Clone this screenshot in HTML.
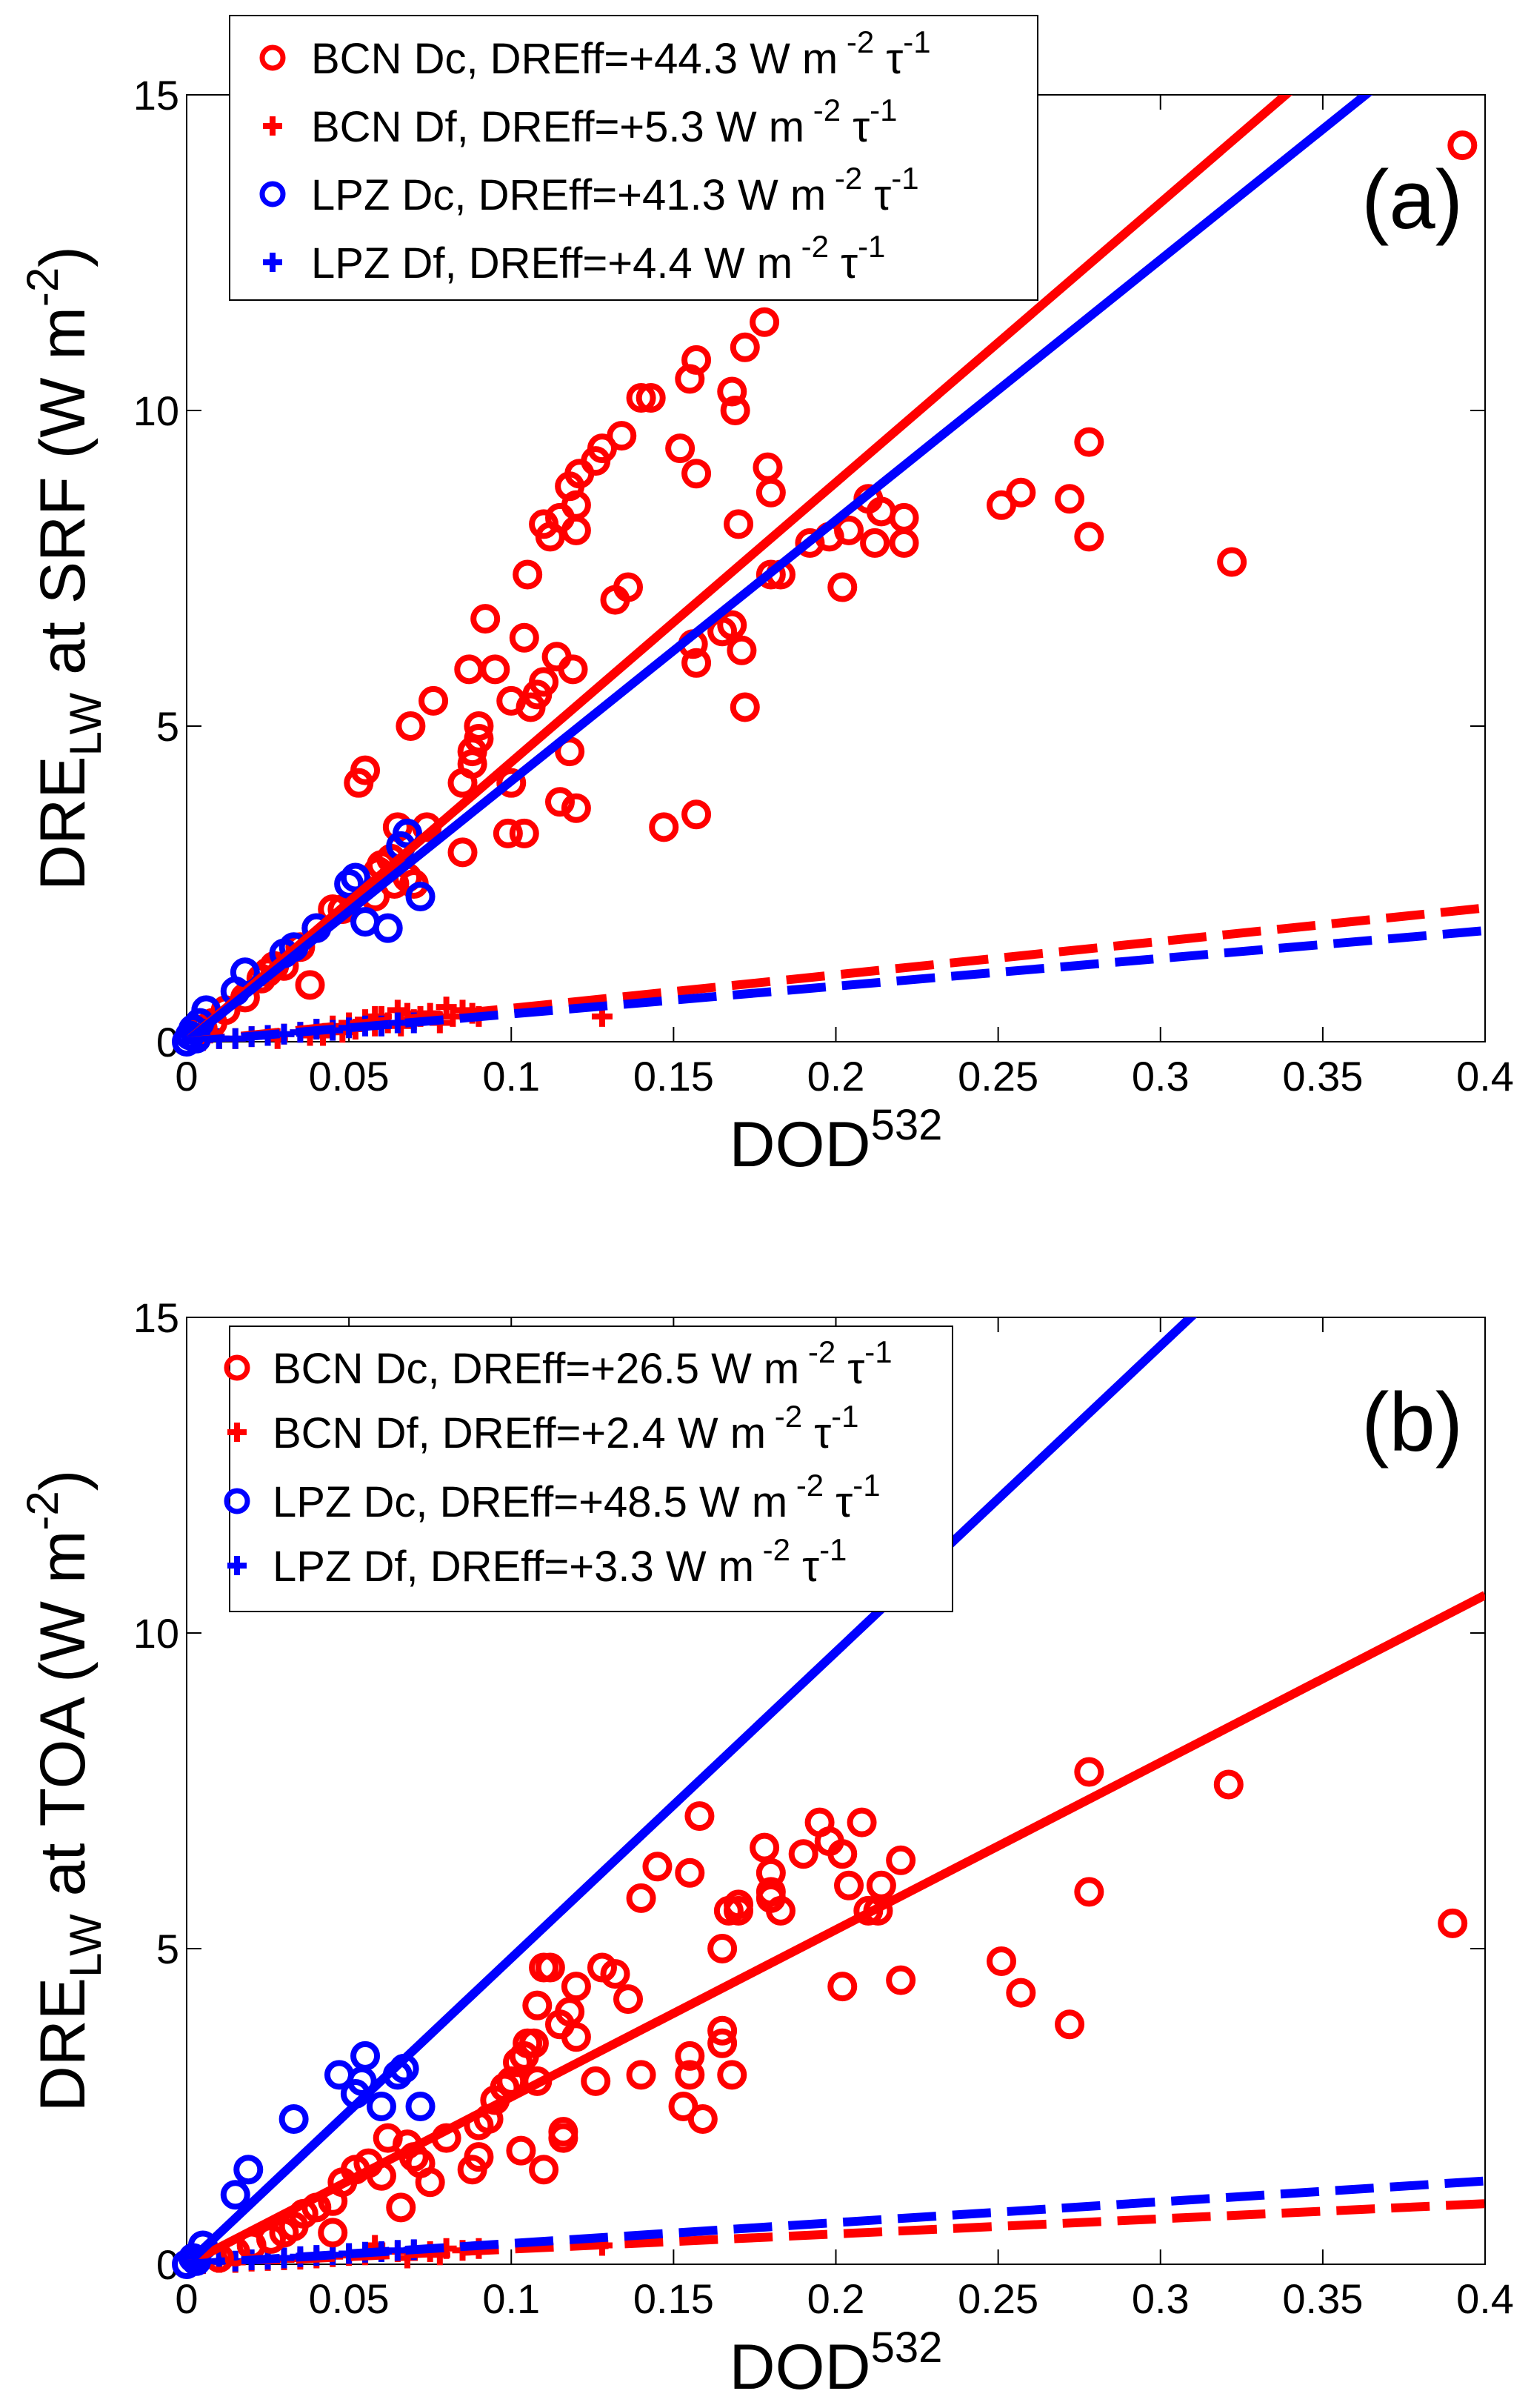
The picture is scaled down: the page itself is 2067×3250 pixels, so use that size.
<!DOCTYPE html>
<html><head><meta charset="utf-8">
<style>
html,body{margin:0;padding:0;background:#fff;}
svg{display:block;font-family:"Liberation Sans",Arial,sans-serif;}
</style></head>
<body>
<svg id="chart" width="2067" height="3250" viewBox="0 0 2067 3250" xmlns="http://www.w3.org/2000/svg"></svg>
<script>
// ---- data ----
const xTicks = [0,0.05,0.1,0.15,0.2,0.25,0.3,0.35,0.4];
const xTickLabels = ["0","0.05","0.1","0.15","0.2","0.25","0.3","0.35","0.4"];
const yTicks = [0,5,10,15];
const yTickLabels = ["0","5","10","15"];

const aBcnDc = [[0.393,14.2],[0.322,7.6],[0.278,9.5],[0.278,8.0],[0.272,8.6],[0.257,8.7],[0.251,8.5],[0.221,8.3],[0.221,7.9],[0.214,8.4],[0.212,7.9],[0.21,8.6],[0.204,8.1],[0.202,7.2],[0.198,8.0],[0.192,7.9],[0.183,7.4],[0.18,7.4],[0.18,8.7],[0.179,9.1],[0.178,11.4],[0.172,11.0],[0.169,10.0],[0.168,10.3],[0.17,8.2],[0.171,6.2],[0.172,5.3],[0.168,6.6],[0.165,6.5],[0.157,9.0],[0.157,10.8],[0.155,10.5],[0.152,9.4],[0.157,6.0],[0.156,6.3],[0.157,3.6],[0.143,10.2],[0.14,10.2],[0.136,7.2],[0.132,7.0],[0.134,9.6],[0.128,9.4],[0.126,9.2],[0.121,9.0],[0.12,8.5],[0.12,8.1],[0.118,8.8],[0.115,8.3],[0.112,8.0],[0.11,8.2],[0.114,6.1],[0.118,4.6],[0.12,3.7],[0.119,5.9],[0.115,3.8],[0.11,5.7],[0.108,5.5],[0.105,7.4],[0.104,6.4],[0.106,5.3],[0.1,5.4],[0.1,4.1],[0.104,3.3],[0.099,3.3],[0.095,5.9],[0.092,6.7],[0.09,4.8],[0.09,5.0],[0.088,4.4],[0.088,4.6],[0.087,5.9],[0.085,4.1],[0.085,3.0],[0.076,5.4],[0.069,5.0],[0.07,2.5],[0.074,3.4],[0.065,3.4],[0.063,2.9],[0.06,2.8],[0.058,2.3],[0.055,4.3],[0.053,4.1],[0.048,2.1],[0.045,2.1],[0.04,1.8],[0.038,0.9],[0.035,1.5],[0.03,1.2],[0.027,1.2],[0.025,1.1],[0.068,2.6],[0.064,2.5],[0.059,2.7],[0.147,3.4],[0.023,1.0],[0.018,0.7],[0.012,0.5],[0.008,0.3],[0.005,0.2]];
const aLpzDc = [[0,0],[0.002,0.2],[0.004,0.3],[0.006,0.5],[0.018,1.1],[0.015,0.8],[0.03,1.4],[0.033,1.5],[0.04,1.8],[0.05,2.5],[0.052,2.6],[0.055,1.9],[0.062,1.8],[0.066,3.1],[0.068,3.3],[0.072,2.3],[0.001,0.1],[0.003,0.05]];
const aBcnDf = [[0.005,0.02],[0.01,0.05],[0.015,0.05],[0.02,0.08],[0.025,0.1],[0.03,0.12],[0.035,0.15],[0.04,0.2],[0.042,0.1],[0.045,0.25],[0.05,0.3],[0.052,0.2],[0.055,0.35],[0.058,0.25],[0.06,0.4],[0.062,0.3],[0.065,0.5],[0.068,0.45],[0.07,0.35],[0.072,0.4],[0.075,0.45],[0.08,0.55],[0.082,0.4],[0.085,0.5],[0.088,0.45],[0.09,0.4],[0.128,0.4],[0.048,0.15],[0.038,0.1],[0.028,0.05],[0.058,0.4],[0.066,0.25],[0.078,0.3]];
const aLpzDf = [[0.002,0.01],[0.005,0.03],[0.01,0.05],[0.015,0.05],[0.02,0.08],[0.025,0.1],[0.03,0.12],[0.035,0.15],[0.04,0.2],[0.045,0.18],[0.05,0.22],[0.055,0.25],[0.06,0.25],[0.065,0.3],[0.07,0.3]];
const aSlopes = [44.3,5.3,41.3,4.4];

const bBcnDc = [[0.39,5.4],[0.321,7.6],[0.278,7.8],[0.278,5.9],[0.272,3.8],[0.257,4.3],[0.251,4.8],[0.22,6.4],[0.22,4.5],[0.214,6.0],[0.213,5.6],[0.21,5.6],[0.208,7.0],[0.204,6.0],[0.202,6.5],[0.202,4.4],[0.198,6.7],[0.195,7.0],[0.19,6.5],[0.183,5.6],[0.18,5.8],[0.18,6.2],[0.18,5.9],[0.178,6.6],[0.17,5.6],[0.17,5.7],[0.167,5.6],[0.165,5.0],[0.165,3.7],[0.165,3.5],[0.168,3.0],[0.158,7.1],[0.155,6.2],[0.155,3.3],[0.155,3.0],[0.159,2.3],[0.153,2.5],[0.145,6.3],[0.14,5.8],[0.14,3.0],[0.136,4.2],[0.132,4.6],[0.128,4.7],[0.126,2.9],[0.12,4.4],[0.118,4.0],[0.12,3.6],[0.115,3.8],[0.112,4.7],[0.11,4.7],[0.108,4.1],[0.107,3.5],[0.105,3.5],[0.104,3.3],[0.102,3.2],[0.1,2.9],[0.108,2.9],[0.116,2.1],[0.116,2.0],[0.11,1.5],[0.103,1.8],[0.098,2.8],[0.095,2.6],[0.093,2.3],[0.09,2.2],[0.09,1.7],[0.088,1.5],[0.08,2.0],[0.075,1.3],[0.072,1.6],[0.07,1.7],[0.068,1.9],[0.066,0.9],[0.062,2.0],[0.06,1.4],[0.056,1.6],[0.052,1.5],[0.048,1.3],[0.045,1.0],[0.04,0.9],[0.036,0.8],[0.033,0.6],[0.03,0.5],[0.026,0.4],[0.02,0.3],[0.015,0.2],[0.01,0.1],[0.045,0.5]];
const bLpzDc = [[0,0],[0.002,0.1],[0.005,0.3],[0.015,1.1],[0.019,1.5],[0.033,2.3],[0.047,3.0],[0.052,2.7],[0.054,2.9],[0.055,3.3],[0.06,2.5],[0.065,3.0],[0.067,3.1],[0.072,2.5],[0.003,0.05]];
const bBcnDf = [[0.005,0.01],[0.01,0.03],[0.015,0.03],[0.02,0.05],[0.025,0.06],[0.03,0.07],[0.035,0.08],[0.04,0.1],[0.045,0.12],[0.05,0.14],[0.055,0.15],[0.06,0.2],[0.065,0.2],[0.07,0.22],[0.075,0.2],[0.08,0.25],[0.085,0.22],[0.09,0.25],[0.128,0.3],[0.058,0.3],[0.068,0.1],[0.078,0.15]];
const bLpzDf = [[0.002,0.01],[0.005,0.02],[0.01,0.04],[0.015,0.05],[0.02,0.07],[0.025,0.08],[0.03,0.1],[0.035,0.12],[0.04,0.14],[0.045,0.15],[0.05,0.17],[0.055,0.19],[0.06,0.2],[0.065,0.22],[0.07,0.23]];
const bSlopes = [26.5,2.4,48.5,3.3];

const aLegend = ["+44.3","+5.3","+41.3","+4.4"];
const bLegend = ["+26.5","+2.4","+48.5","+3.3"];

// ---- drawing ----
const NS="http://www.w3.org/2000/svg";
const svg=document.getElementById('chart');
function el(tag,attrs,parent){const e=document.createElementNS(NS,tag);for(const k in attrs)e.setAttribute(k,attrs[k]);(parent||svg).appendChild(e);return e;}
const RED="#ff0000",BLUE="#0000ff";

function panel(cfg){
  const L=252,R=2005,T=cfg.top,B=cfg.top+1278;
  const xs=v=>L+(v/0.4)*(R-L);
  const ys=v=>B-(v/15)*(B-T);
  const g=el('g',{});
  
  
  el('rect',{x:L,y:T,width:R-L,height:B-T,fill:'#fff',stroke:'#000','stroke-width':2},g);
  xTicks.forEach((t,i)=>{
    const x=xs(t);
    el('line',{x1:x,y1:B,x2:x,y2:B-20,stroke:'#000','stroke-width':2},g);
    el('line',{x1:x,y1:T,x2:x,y2:T+20,stroke:'#000','stroke-width':2},g);
    const tx=el('text',{x:x,y:B+66,'font-size':56,'text-anchor':'middle'},g);
    tx.textContent=xTickLabels[i];
    
    
  });
  yTicks.forEach((t,i)=>{
    const y=ys(t);
    el('line',{x1:L,y1:y,x2:L+20,y2:y,stroke:'#000','stroke-width':2},g);
    el('line',{x1:R,y1:y,x2:R-20,y2:y,stroke:'#000','stroke-width':2},g);
    const tx=el('text',{x:L-10,y:y+20,'font-size':56,'text-anchor':'end'},g);
    tx.textContent=yTickLabels[i];
    
    
  });
  const cp=el('clipPath',{id:'clip'+cfg.id},g);
  el('rect',{x:L,y:T,width:R-L,height:B-T},cp);
  const pg=el('g',{},g);
  function circles(arr,col,name){arr.forEach(p=>{
    const c=el('circle',{cx:xs(p[0]),cy:ys(p[1]),r:16,fill:'none',stroke:col,'stroke-width':8},pg);
    
    
  });}
  function pluses(arr,col,name){arr.forEach(p=>{
    const x=xs(p[0]),y=ys(p[1]);
    const pth=el('path',{d:`M${x-14},${y}H${x+14}M${x},${y-14}V${y+14}`,stroke:col,'stroke-width':8},pg);
    
    
  });}
  pluses(cfg.bcnDf,RED,'bcn-df-point');
  pluses(cfg.lpzDf,BLUE,'lpz-df-point');
  circles(cfg.bcnDc,RED,'bcn-dc-point');
  circles(cfg.lpzDc,BLUE,'lpz-dc-point');
  const lg=el('g',{'clip-path':`url(#clip${cfg.id})`},g);
  const lines=[[cfg.slopes[0],RED,false,'bcn-dc-fit'],[cfg.slopes[2],BLUE,false,'lpz-dc-fit'],[cfg.slopes[1],RED,true,'bcn-df-fit'],[cfg.slopes[3],BLUE,true,'lpz-df-fit']];
  lines.forEach(l=>{
    const ln=el('line',{x1:xs(0),y1:ys(0),x2:xs(0.4),y2:ys(0.4*l[0]),stroke:l[1],'stroke-width':12},lg);
    if(l[2])ln.setAttribute('stroke-dasharray','52 22');
    
    
  });
  // labels
  const xl=el('text',{x:(L+R)/2,y:B+168,'font-size':86,'text-anchor':'middle'},g);
  xl.innerHTML='DOD<tspan font-size="58" dy="-36">532</tspan>';
  
  
  const yl=el('text',{x:0,y:0,'font-size':86,'text-anchor':'middle',transform:`translate(114,${(T+B)/2}) rotate(-90)`},g);
  yl.innerHTML=`DRE<tspan font-size="60" dy="22">LW</tspan><tspan dy="-22"> at ${cfg.site} (W m</tspan><tspan font-size="60" dy="-36">-2</tspan><tspan dy="36">)</tspan>`;
  
  
  const pl=el('text',{x:1975,y:T+180,'font-size':112,'text-anchor':'end'},g);
  pl.textContent=cfg.tag;
  
  
  // legend
  const lgd=cfg.legend;
  const box=el('rect',{x:lgd.x,y:lgd.y,width:lgd.w,height:lgd.h,fill:'#fff',stroke:'#000','stroke-width':2},g);
  
  
  const names=["BCN Dc","BCN Df","LPZ Dc","LPZ Df"],cols=[RED,RED,BLUE,BLUE];
  for(let i=0;i<4;i++){
    const y=lgd.rows[i];
    if(i%2==0)el('circle',{cx:lgd.mx,cy:y,r:14,fill:'none',stroke:cols[i],'stroke-width':7},g);
    else el('path',{d:`M${lgd.mx-13},${y}H${lgd.mx+13}M${lgd.mx},${y-13}V${y+13}`,stroke:cols[i],'stroke-width':8},g);
    const t=el('text',{x:lgd.tx,y:y+21,'font-size':58},g);
    t.innerHTML=`${names[i]}, DREff=${cfg.legendVals[i]} W  m<tspan font-size="42" dy="-28"> -2</tspan><tspan dy="28"> τ</tspan><tspan font-size="42" dy="-28">-1</tspan>`;
    
    
  }
}
panel({id:'a',name:'panel-a-srf',top:128,site:'SRF',tag:'(a)',bcnDc:aBcnDc,lpzDc:aLpzDc,bcnDf:aBcnDf,lpzDf:aLpzDf,slopes:aSlopes,legendVals:aLegend,
  legend:{x:310,y:21,w:1091,h:384,mx:368,tx:420,rows:[78,170,262,354]}});
panel({id:'b',name:'panel-b-toa',top:1778,site:'TOA',tag:'(b)',bcnDc:bBcnDc,lpzDc:bLpzDc,bcnDf:bBcnDf,lpzDf:bLpzDf,slopes:bSlopes,legendVals:bLegend,
  legend:{x:310,y:1790,w:976,h:385,mx:320,tx:368,rows:[1846,1933,2026,2113]}});
</script>
</body></html>
